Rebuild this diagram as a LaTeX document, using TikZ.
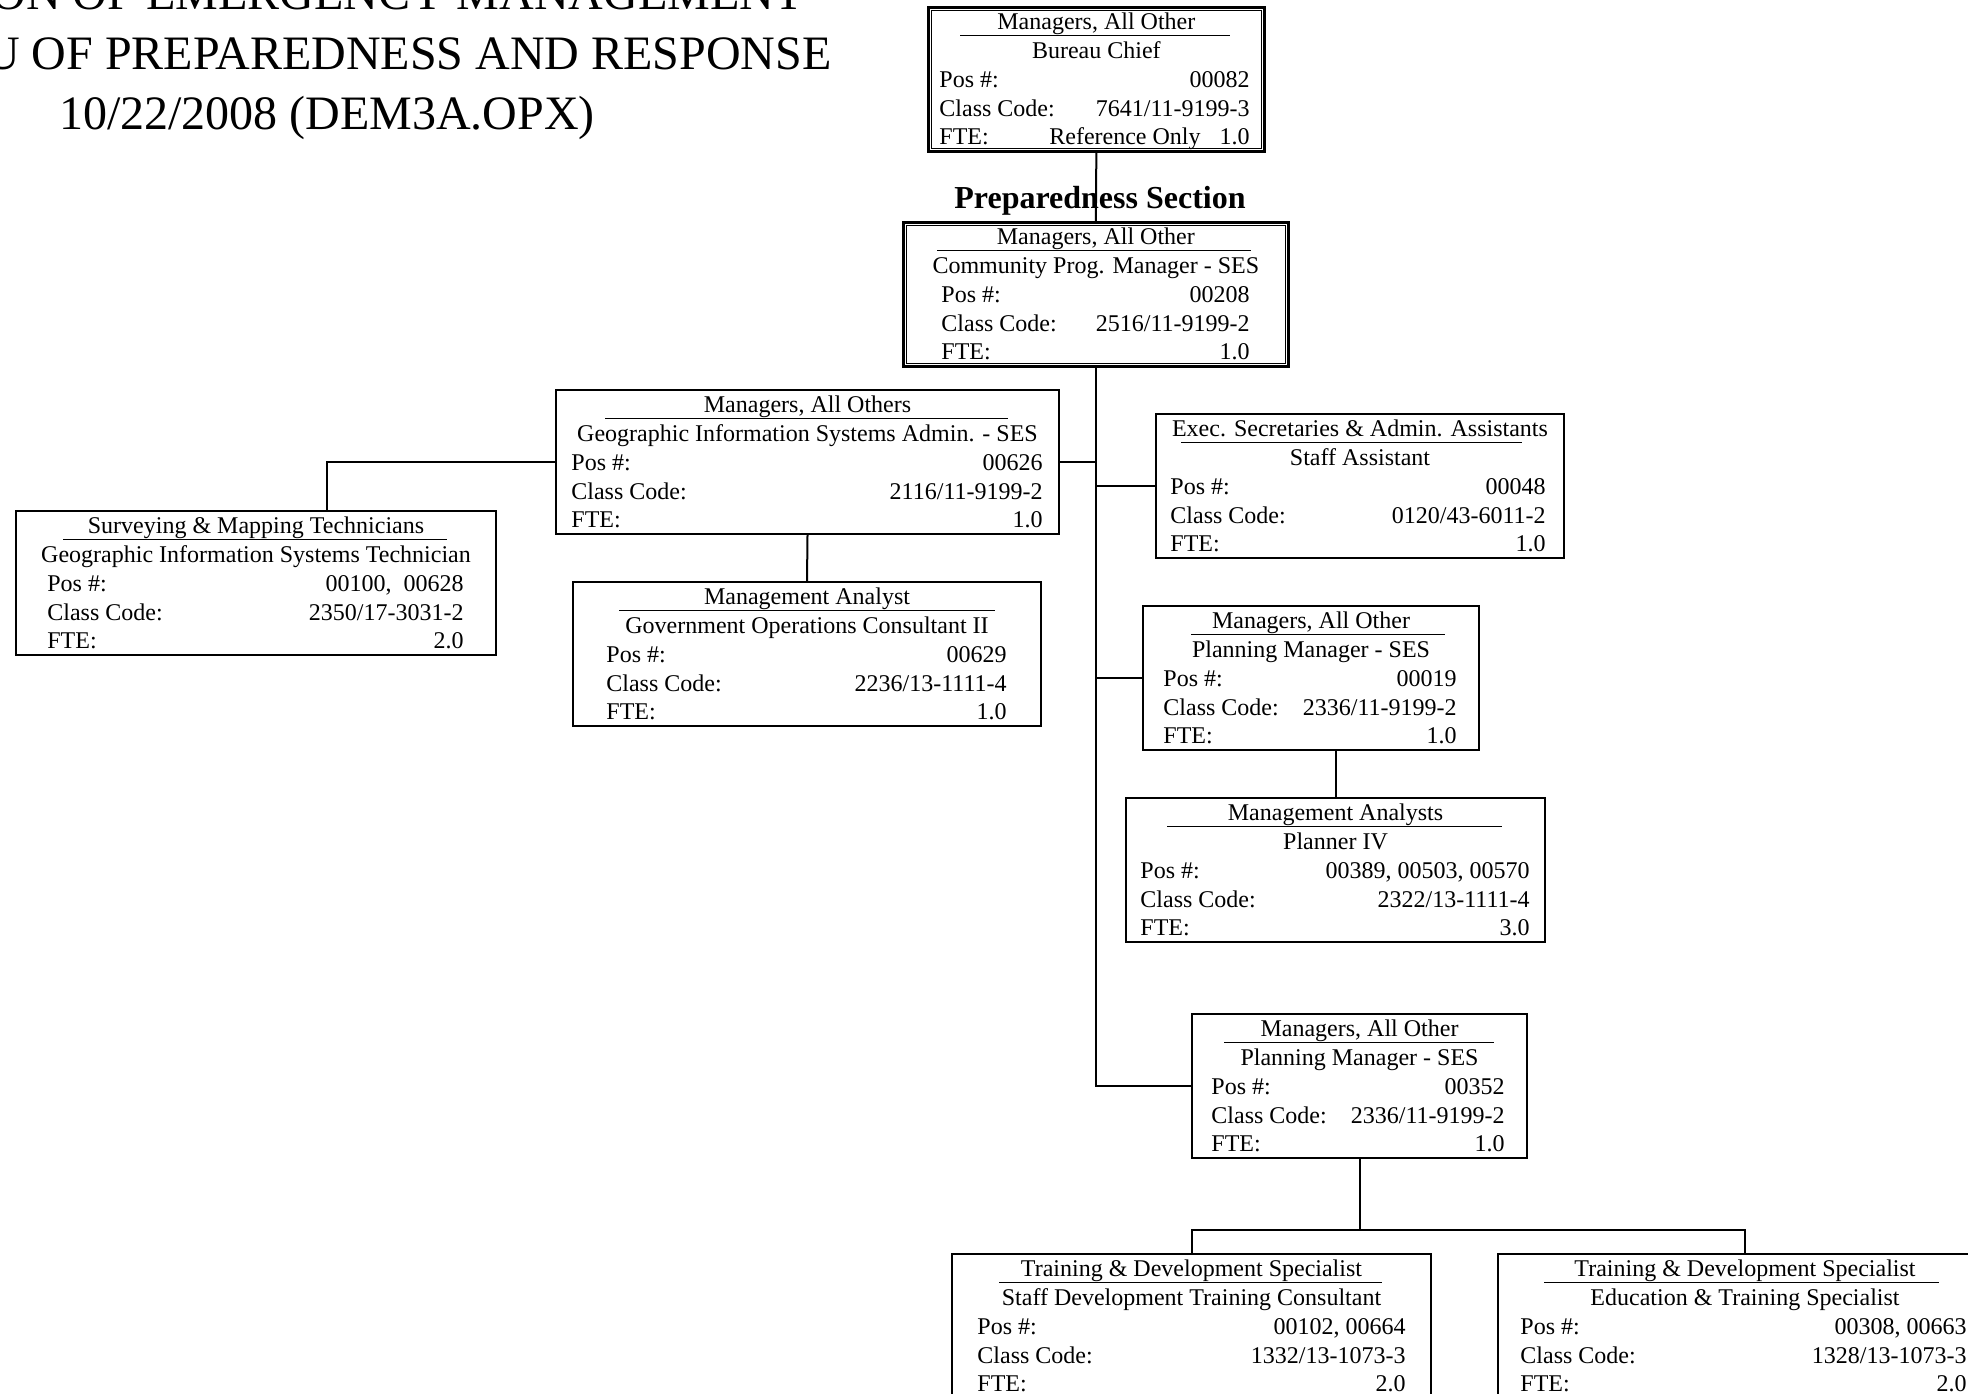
\documentclass[tikz,border=0pt]{standalone}
\usepackage{fontspec}
\setmainfont{Liberation Serif}
\usetikzlibrary{calc}

% frame of one position box, its heading rule, and the columns used by \orgtext
% #1 name, #2 style, #3 left, #4 top, #5 right, #6 label x, #7 value x, #8/#9 rule ends
\newcommand{\orgbox}[9]{%
  \def\bxtop{#4}\def\bxlab{#6}\def\bxval{#7}%
  \node[#2, anchor=north west, minimum width={(#5-#3)*0.5pt}, minimum height=72pt] (#1) at (#3,#4) {};
  \draw[headrule] (#8,#4+29.5) -- (#9,#4+29.5);
}
% the five text rows of a position box
% #1 name, #2 class title, #3 working title, #4 position numbers, #5 class code, #6 FTE
\newcommand{\orgtext}[6]{%
  \node[txt, anchor=base] (#1-cat) at ($(#1.north)+(0,23.5)$) {#2};
  \node[txt, anchor=base] (#1-job) at ($(#1.north)+(0,52.5)$) {#3};
  \node[txt, anchor=base west] (#1-pl) at (\bxlab,\bxtop+81.3) {Pos \#:};
  \node[txt, anchor=base east] (#1-pv) at (\bxval,\bxtop+81.3) {#4};
  \node[txt, anchor=base west] (#1-cl) at (\bxlab,\bxtop+110.1) {Class Code:};
  \node[txt, anchor=base east] (#1-cv) at (\bxval,\bxtop+110.1) {#5};
  \node[txt, anchor=base west] (#1-fl) at (\bxlab,\bxtop+138.9) {FTE:};
  \node[txt, anchor=base east] (#1-fv) at (\bxval,\bxtop+138.9) {#6};
}

\begin{document}
\begin{tikzpicture}[x=0.5pt, y=-0.5pt,
  txt/.style={inner sep=0pt, font=\fontsize{12}{14}\selectfont},
  titletxt/.style={inner sep=0pt, font=\fontsize{24}{28}\selectfont},
  sectxt/.style={inner sep=0pt, font=\fontsize{16}{19}\selectfont\bfseries},
  plainbox/.style={draw, line width=1pt, inner sep=0pt},
  dblbox/.style={draw, line width=1.35pt, inner sep=0pt},
  innerframe/.style={line width=0.65pt},
  headrule/.style={line width=0.75pt},
  link/.style={line width=1pt}]
\useasboundingbox (0,0) rectangle (1968,1393);
\clip (0,0) rectangle (1968,1393);

% heading
\node[titletxt, anchor=base east] (head1) at (804,9) {ON OF EMERGENCY MANAGEMENT};
\node[titletxt, anchor=base east] (head2) at (832,69) {U OF PREPAREDNESS AND RESPONSE};
\node[titletxt, anchor=base] (head3) at (327,129) {10/22/2008 (DEM3A.OPX)};

% bureau chief
\orgbox{A}{dblbox}{927}{6}{1263}{939}{1250}{960}{1230}
\draw[innerframe] ([shift={(4.5,4.5)}]A.north west) rectangle ([shift={(-4.5,-4.5)}]A.south east);
\orgtext{A}{Managers, All Other}{Bureau Chief}{00082}{7641/11-9199-3}{Reference Only\hspace{9.5pt}1.0}

\node[sectxt, anchor=base] (sec) at (1100,208) {Preparedness Section};

% section manager
\orgbox{B}{dblbox}{902}{221}{1287}{941}{1250}{937}{1251}
\draw[innerframe] ([shift={(4.5,4.5)}]B.north west) rectangle ([shift={(-4.5,-4.5)}]B.south east);
\orgtext{B}{Managers, All Other}{Community Prog. Manager - SES}{00208}{2516/11-9199-2}{1.0}

% GIS unit
\orgbox{C}{plainbox}{555}{389}{1058}{571}{1043}{605}{1008}
\orgtext{C}{Managers, All Others}{Geographic Information Systems Admin. - SES}{00626}{2116/11-9199-2}{1.0}

\orgbox{D}{plainbox}{15}{510}{495}{47}{464}{63}{447}
\orgtext{D}{Surveying \& Mapping Technicians}{Geographic Information Systems Technician}{00100,~~00628}{2350/17-3031-2}{2.0}

\orgbox{E}{plainbox}{572}{581}{1040}{606}{1007}{619}{995}
\orgtext{E}{Management Analyst}{Government Operations Consultant II}{00629}{2236/13-1111-4}{1.0}

% staff assistant
\orgbox{F}{plainbox}{1155}{413}{1563}{1170}{1546}{1181}{1522}
\orgtext{F}{Exec. Secretaries \& Admin. Assistants}{Staff Assistant}{00048}{0120/43-6011-2}{1.0}

% planning
\orgbox{G}{plainbox}{1142}{605}{1478}{1163}{1457}{1191}{1445}
\orgtext{G}{Managers, All Other}{Planning Manager - SES}{00019}{2336/11-9199-2}{1.0}

\orgbox{H}{plainbox}{1125}{797}{1544}{1140}{1530}{1167}{1502}
\orgtext{H}{Management Analysts}{Planner IV}{00389, 00503, 00570}{2322/13-1111-4}{3.0}

% training
\orgbox{I}{plainbox}{1191}{1013}{1526}{1211}{1505}{1224}{1494}
\orgtext{I}{Managers, All Other}{Planning Manager - SES}{00352}{2336/11-9199-2}{1.0}

\orgbox{J}{plainbox}{951}{1253}{1430}{977}{1406}{999}{1382}
\orgtext{J}{Training \& Development Specialist}{Staff Development Training Consultant}{00102, 00664}{1332/13-1073-3}{2.0}

\orgbox{K}{plainbox}{1497}{1253}{1991}{1520}{1967}{1544}{1939}
\orgtext{K}{Training \& Development Specialist}{Education \& Training Specialist}{00308, 00663}{1328/13-1073-3}{2.0}

% reporting lines
\draw[link] (A.south) -- (B.north);
\draw[link] (B.south) |- (I.west);
\draw[link] (C.east) -- (C.east -| B.south);
\draw[link] (F.west) -- (F.west -| B.south);
\draw[link] (G.west) -- (G.west -| B.south);
\draw[link] (C.west) -| ($(D.north)+(71,0)$);
\draw[link] (C.south) -- (E.north);
\draw[link] (H.north) -- (H.north |- G.south);
\coordinate (bus) at ($(J.north)+(0,-23)$);
\draw[link] (J.north) -- (bus) -| (K.north);
\draw[link] (I.south) -- (I.south |- bus);
\end{tikzpicture}
\end{document}
